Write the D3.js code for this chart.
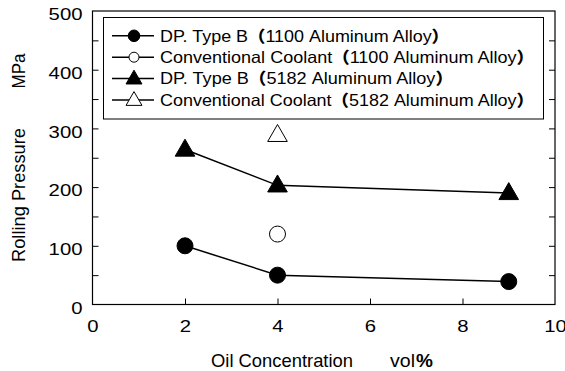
<!DOCTYPE html>
<html>
<head>
<meta charset="utf-8">
<script src="https://cdn.jsdelivr.net/npm/d3@7"></script>
<style>
  body { margin: 0; background: #fff; }
  svg text { font-family: "Liberation Sans", Arial, sans-serif; fill: #000; }
</style>
</head>
<body>
<div id="chart"></div>
<script>
// data
const dpB1100 = [[2, 100], [4, 50], [9, 39]];
const conv1100 = [[4, 120]];
const dpB5182 = [[2, 264], [4, 203], [9, 190]];
const conv5182 = [[4, 289]];
const legendNames = ["DP. Type B", "Conventional Coolant", "DP. Type B", "Conventional Coolant"];
const legendAlloys = ["1100 Aluminum Alloy", "1100 Aluminum Alloy", "5182 Aluminum Alloy", "5182 Aluminum Alloy"];
const xTicks = [0, 2, 4, 6, 8, 10];
const yTicks = [0, 100, 200, 300, 400, 500];

const width = 565, height = 371;
const margin = { top: 11, right: 10, bottom: 66.5, left: 92.5 };
const digitW = 11.3; // the original font draws wide digits

const svg = d3.select("#chart").append("svg")
  .attr("width", width)
  .attr("height", height);

const x = d3.scaleLinear().domain([0, 10]).range([margin.left, width - margin.right]);
const y = d3.scaleLinear().domain([0, 500]).range([height - margin.bottom, margin.top]);

// frame
svg.append("rect")
  .attr("x", x(0)).attr("y", y(500))
  .attr("width", x(10) - x(0)).attr("height", y(0) - y(500))
  .attr("fill", "none").attr("stroke", "#000").attr("stroke-width", 1.2);

// axes, ticks pointing inward
const gx = svg.append("g").attr("transform", `translate(0,${y(0)})`)
  .call(d3.axisBottom(x).tickValues(xTicks).tickSize(-6).tickPadding(15).tickFormat(d3.format("d")));
const gy = svg.append("g").attr("transform", `translate(${x(0)},0)`)
  .call(d3.axisLeft(y).tickValues(yTicks).tickSize(-6).tickPadding(10));
const gyMinor = svg.append("g").attr("transform", `translate(${x(0)},0)`)
  .call(d3.axisLeft(y).tickValues([50, 150, 250, 350, 450]).tickSize(-6).tickFormat(""));
const gyR = svg.append("g").attr("transform", `translate(${x(10)},0)`)
  .call(d3.axisRight(y).tickValues(d3.range(50, 500, 50)).tickSize(-6).tickFormat(""));

[gx, gy, gyMinor, gyR].forEach(g => {
  g.select(".domain").remove();
  g.selectAll("line").attr("stroke", "#000").attr("stroke-width", 1);
  g.selectAll("text")
    .style("font-size", "17px")
    .style("font-family", "Liberation Sans, Arial, sans-serif")
    .attr("lengthAdjust", "spacingAndGlyphs")
    .attr("textLength", function() { return this.textContent.length * digitW; });
});
gy.selectAll(".tick text").attr("dy", "0.52em");
// edge ticks sit on the frame
gx.selectAll(".tick line").filter(d => d === 0 || d === 10).remove();
gy.selectAll(".tick line").filter(d => d === 0 || d === 500).remove();

// axis titles
svg.append("text")
  .attr("transform", `translate(24.5,195) rotate(-90)`)
  .attr("text-anchor", "middle")
  .style("font-size", "18.5px")
  .attr("textLength", 134).attr("lengthAdjust", "spacingAndGlyphs")
  .text("Rolling Pressure");
svg.append("text")
  .attr("transform", `translate(24.5,71) rotate(-90)`)
  .attr("text-anchor", "middle")
  .style("font-size", "18px")
  .attr("textLength", 35).attr("lengthAdjust", "spacingAndGlyphs")
  .text("MPa");
svg.append("text")
  .attr("x", 211).attr("y", 367)
  .style("font-size", "18.5px")
  .attr("textLength", 142).attr("lengthAdjust", "spacingAndGlyphs")
  .text("Oil Concentration");
svg.append("text")
  .attr("x", 390).attr("y", 367)
  .style("font-size", "18.5px")
  .attr("textLength", 25).attr("lengthAdjust", "spacingAndGlyphs")
  .text("vol");
svg.append("text")
  .attr("x", 416).attr("y", 367)
  .style("font-size", "19px").attr("font-weight", "bold")
  .text("%");

// markers
const line = d3.line().x(d => x(d[0])).y(d => y(d[1]));

function drawMarker(g, cx, cy, shape, filled, size) {
  if (shape === "circle") {
    g.append("circle")
      .attr("cx", cx).attr("cy", cy).attr("r", size)
      .attr("fill", filled ? "#000" : "#fff")
      .attr("stroke", "#000").attr("stroke-width", 1);
  } else {
    g.append("path")
      .attr("d", d3.symbol().type(d3.symbolTriangle).size(size * size * 2.6))
      .attr("transform", `translate(${cx},${cy + size * 0.12})`)
      .attr("fill", filled ? "#000" : "#fff")
      .attr("stroke", "#000").attr("stroke-width", 1);
  }
}

function drawSeries(data, shape, filled, connect) {
  if (connect) {
    svg.append("path").datum(data)
      .attr("d", line)
      .attr("fill", "none").attr("stroke", "#000").attr("stroke-width", 1.5);
  }
  data.forEach(d => drawMarker(svg, x(d[0]), y(d[1]), shape, filled, 8));
}

drawSeries(dpB1100, "circle", true, true);
drawSeries(conv1100, "circle", false, false);
drawSeries(dpB5182, "triangle", true, true);
drawSeries(conv5182, "triangle", false, false);

// legend
const legend = svg.append("g");
legend.append("rect")
  .attr("x", 103.5).attr("y", 17.5)
  .attr("width", 440).attr("height", 101.5)
  .attr("fill", "#fff").attr("stroke", "#000").attr("stroke-width", 1);
const legendShapes = [["circle", true], ["circle", false], ["triangle", true], ["triangle", false]];
const legendLens = [289, 374, 293, 374];
legendNames.forEach((name, i) => {
  const ly = 35.8 + i * 21.4;
  legend.append("line")
    .attr("x1", 112).attr("x2", 154).attr("y1", ly).attr("y2", ly)
    .attr("stroke", "#000").attr("stroke-width", 1.5);
  const [shape, filled] = legendShapes[i];
  drawMarker(legend, 134, ly, shape, filled, shape === "circle" ? (filled ? 5.8 : 5) : 6.5);
  const t = legend.append("text")
    .attr("x", 160).attr("y", ly + 5.8)
    .style("font-size", "16.5px")
    .attr("textLength", legendLens[i]).attr("lengthAdjust", "spacingAndGlyphs");
  t.append("tspan").text(name);
  t.append("tspan")
    .style("font-family", "'Noto Sans CJK JP', sans-serif")
    .style("font-size", "16px")
    .attr("font-weight", "900")
    .text("（");
  t.append("tspan").text(legendAlloys[i]);
  t.append("tspan")
    .style("font-family", "'Noto Sans CJK JP', sans-serif")
    .style("font-size", "16px")
    .attr("font-weight", "900")
    .text("）");
});
</script>
</body>
</html>
